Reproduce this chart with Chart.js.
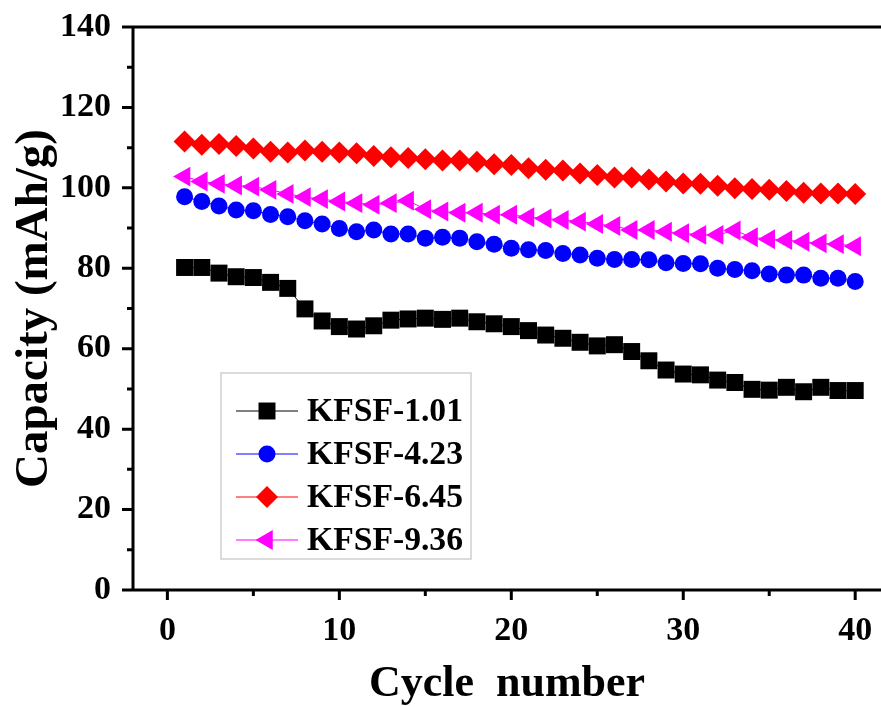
<!DOCTYPE html>
<html>
<head>
<meta charset="utf-8">
<script src="https://cdn.jsdelivr.net/npm/chart.js@4.4.0/dist/chart.umd.min.js"></script>
<style>
    html, body { margin: 0; padding: 0; background: #fff; overflow: hidden; }
    #wrap { position: relative; width: 881px; height: 707px; }
</style>
</head>
<body>
<div id="wrap"><canvas id="capacityChart" width="881" height="707"></canvas></div>
<script>
var cycles = [1, 2, 3, 4, 5, 6, 7, 8, 9, 10, 11, 12, 13, 14, 15, 16, 17, 18, 19, 20,
    21, 22, 23, 24, 25, 26, 27, 28, 29, 30, 31, 32, 33, 34, 35, 36, 37, 38, 39, 40];
var kfsf101 = [80.2, 80.2, 78.8, 77.9, 77.7, 76.5, 75.0, 69.9, 66.9, 65.5, 64.9, 65.7, 67.1, 67.4, 67.6, 67.3, 67.6, 66.7, 66.2, 65.5,
    64.5, 63.4, 62.6, 61.6, 60.7, 61.0, 59.3, 57.0, 54.7, 53.7, 53.5, 52.2, 51.6, 49.9, 49.7, 50.4, 49.3, 50.4, 49.6, 49.6];
var kfsf423 = [97.8, 96.6, 95.5, 94.5, 94.3, 93.4, 92.8, 91.8, 91.0, 89.9, 89.1, 89.5, 88.5, 88.5, 87.5, 87.7, 87.5, 86.6, 86.0, 85.0,
    84.6, 84.4, 83.7, 83.3, 82.5, 82.2, 82.2, 82.1, 81.4, 81.2, 81.1, 80.0, 79.7, 79.4, 78.6, 78.3, 78.3, 77.5, 77.5, 76.7];
var kfsf645 = [111.5, 110.7, 110.9, 110.4, 109.8, 109.0, 108.8, 109.3, 109.0, 108.8, 108.6, 107.9, 107.6, 107.4, 107.1, 106.8, 106.8, 106.5, 105.9, 105.7,
    104.9, 104.5, 104.3, 103.6, 103.2, 102.6, 102.6, 102.1, 101.6, 101.1, 101.0, 100.5, 99.9, 99.7, 99.5, 99.2, 98.8, 98.6, 98.6, 98.5];
var kfsf936 = [102.8, 101.6, 101.0, 100.6, 100.3, 99.5, 98.5, 97.7, 97.2, 96.6, 96.2, 95.8, 96.2, 96.8, 94.7, 94.1, 93.8, 93.8, 93.3, 93.3,
    92.7, 92.4, 92.0, 91.6, 91.0, 90.5, 89.5, 89.5, 89.1, 88.7, 88.3, 88.3, 89.4, 87.7, 87.2, 87.0, 86.6, 86.2, 86.0, 85.5];
var seriesLabels = ["KFSF-1.01", "KFSF-4.23", "KFSF-6.45", "KFSF-9.36"];
var xTickLabels = [0, 10, 20, 30, 40];
var yTickLabels = [0, 20, 40, 60, 80, 100, 120, 140];

var serif = "'Liberation Serif', 'Times New Roman', serif";

function toPoints(values) {
    return cycles.map(function (c, i) { return { x: c, y: values[i] }; });
}

// axis lines, top frame and the major/minor tick marks
var frameLines = {
    id: 'frameLines',
    afterDraw: function (chart) {
        var ctx = chart.ctx;
        var area = chart.chartArea;
        var xs = chart.scales.x;
        var ys = chart.scales.y;
        ctx.save();
        ctx.strokeStyle = '#000';
        ctx.lineWidth = 3;
        ctx.lineCap = 'butt';
        ctx.beginPath();
        ctx.moveTo(area.left, area.top);
        ctx.lineTo(area.left, area.bottom + 1.5);
        ctx.moveTo(area.left, area.bottom);
        ctx.lineTo(area.right, area.bottom);
        ctx.moveTo(area.left, area.top);
        ctx.lineTo(area.right, area.top);
        for (var v = 0; v <= 140; v += 10) {
            var py = ys.getPixelForValue(v);
            var len = v % 20 === 0 ? 11 : 6;
            ctx.moveTo(area.left - len, py);
            ctx.lineTo(area.left, py);
        }
        for (var c = 0; c <= 40; c += 5) {
            var px = xs.getPixelForValue(c);
            var tl = c % 10 === 0 ? 10 : 6;
            ctx.moveTo(px, area.bottom);
            ctx.lineTo(px, area.bottom + tl);
        }
        ctx.stroke();
        ctx.restore();
    }
};

// legend box drawn inside the plot
var boxLegend = {
    id: 'boxLegend',
    afterDraw: function (chart) {
        var ctx = chart.ctx;
        var left = 221, top = 373, w = 250, h = 186;
        ctx.save();
        ctx.strokeStyle = '#cfcfcf';
        ctx.lineWidth = 1.5;
        ctx.strokeRect(left, top, w, h);
        ctx.font = 'bold 34px ' + serif;
        ctx.textBaseline = 'middle';
        ctx.textAlign = 'left';
        chart.data.datasets.forEach(function (ds, i) {
            var y = 411 + i * 43;
            ctx.strokeStyle = ds.borderColor;
            ctx.lineWidth = 1;
            ctx.beginPath();
            ctx.moveTo(236, y);
            ctx.lineTo(298, y);
            ctx.stroke();
            ctx.fillStyle = ds.pointBackgroundColor;
            ctx.strokeStyle = ds.pointBackgroundColor;
            Chart.helpers.drawPoint(ctx, {
                pointStyle: ds.pointStyle,
                radius: ds.pointRadius,
                rotation: ds.pointRotation || 0,
                borderWidth: 0
            }, 267, y);
            ctx.fillStyle = '#000';
            ctx.fillText(ds.label, 307, y + 1, 156);
        });
        ctx.restore();
    }
};

var ctx = document.getElementById('capacityChart').getContext('2d');
var myChart = new Chart(ctx, {
    type: 'line',
    data: {
        datasets: [{
            label: seriesLabels[0],
            data: toPoints(kfsf101),
            borderColor: '#000000',
            borderWidth: 1,
            pointStyle: 'rect',
            pointRadius: 12,
            pointBackgroundColor: '#000000',
            pointBorderWidth: 0,
            order: 4
        }, {
            label: seriesLabels[1],
            data: toPoints(kfsf423),
            borderColor: '#0000ff',
            borderWidth: 1,
            pointStyle: 'circle',
            pointRadius: 8.5,
            pointBackgroundColor: '#0000ff',
            pointBorderWidth: 0,
            order: 3
        }, {
            label: seriesLabels[2],
            data: toPoints(kfsf645),
            borderColor: '#ff0000',
            borderWidth: 1,
            pointStyle: 'rectRot',
            pointRadius: 11,
            pointBackgroundColor: '#ff0000',
            pointBorderWidth: 0,
            order: 2
        }, {
            label: seriesLabels[3],
            data: toPoints(kfsf936),
            borderColor: '#ff00ff',
            borderWidth: 1,
            pointStyle: 'triangle',
            pointRotation: -90,
            pointRadius: 11.5,
            pointBackgroundColor: '#ff00ff',
            pointBorderWidth: 0,
            order: 1
        }]
    },
    options: {
        responsive: false,
        animation: false,
        devicePixelRatio: 1,
        layout: { autoPadding: false, padding: { top: 27, left: 0, right: 0, bottom: 0 } },
        plugins: {
            legend: { display: false },
            tooltip: { enabled: false }
        },
        scales: {
            x: {
                type: 'linear',
                min: -2,
                max: 41.5,
                grid: { display: false },
                border: { display: false },
                afterBuildTicks: function (scale) {
                    scale.ticks = xTickLabels.map(function (v) { return { value: v }; });
                },
                afterFit: function (scale) {
                    scale.height = 117;
                    scale.paddingLeft = 0;
                    scale.paddingRight = 0;
                },
                ticks: {
                    color: '#000',
                    padding: 13,
                    maxRotation: 0,
                    font: { family: serif, size: 34, weight: 'bold' }
                },
                title: {
                    display: true,
                    text: 'Cycle  number',
                    color: '#000',
                    padding: { top: 0, bottom: 0 },
                    font: { family: serif, size: 44, weight: 'bold', lineHeight: 1.0 }
                }
            },
            y: {
                min: 0,
                max: 140,
                grid: { display: false },
                border: { display: false },
                afterBuildTicks: function (scale) {
                    scale.ticks = yTickLabels.map(function (v) { return { value: v }; });
                },
                afterFit: function (scale) {
                    scale.width = 133;
                    scale.paddingTop = 0;
                    scale.paddingBottom = 0;
                },
                ticks: {
                    color: '#000',
                    padding: 14,
                    font: { family: serif, size: 34, weight: 'bold' }
                },
                title: {
                    display: true,
                    text: 'Capacity (mAh/g)',
                    color: '#000',
                    padding: { top: 11, bottom: 0 },
                    font: { family: serif, size: 47, weight: 'bold', lineHeight: 1.0 }
                }
            }
        }
    },
    plugins: [frameLines, boxLegend]
});
</script>
</body>
</html>
